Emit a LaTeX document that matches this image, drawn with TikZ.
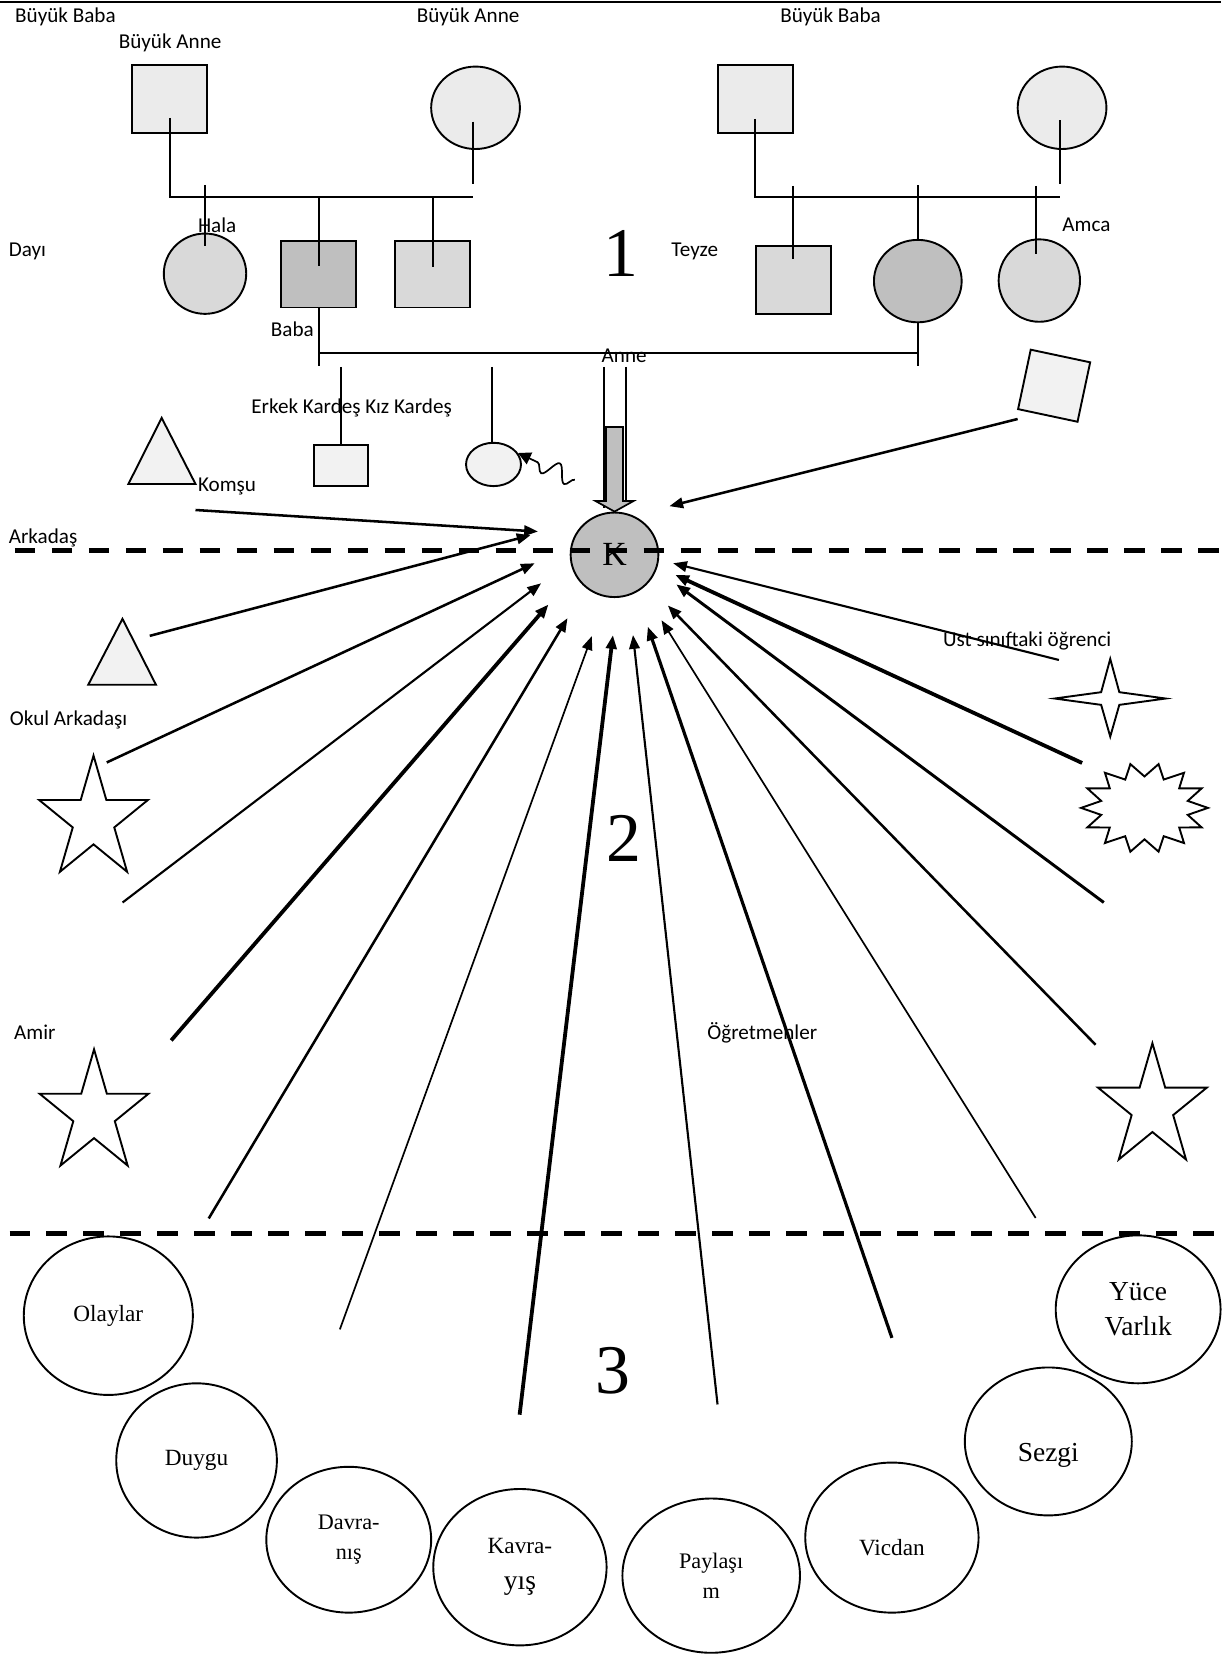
\documentclass[tikz,border=0pt]{standalone}
\usepackage{fontspec}
\setmainfont{Liberation Serif}
\newfontfamily\etiketfont{Carlito}
\usetikzlibrary{arrows.meta,shapes.geometric,decorations.pathmorphing}

\definecolor{acik}{HTML}{EBEBEB}
\definecolor{orta}{HTML}{D9D9D9}
\definecolor{koyu}{HTML}{BFBFBF}
\definecolor{soluk}{HTML}{F2F2F2}

\begin{document}
\begin{tikzpicture}
[x=0.5pt, y=-0.5pt,
sekil/.style={draw, line width=0.9pt, inner sep=0pt},
kare/.style={sekil, rectangle, minimum width=35.5pt, minimum height=32pt},
daire/.style={sekil, ellipse, minimum width=42pt, minimum height=39pt},
balon/.style={sekil, ellipse, align=center, font=\fontsize{11}{14}\selectfont},
aile/.style={line width=0.9pt},
etiket/.style={anchor=west, inner sep=0pt, font=\etiketfont\fontsize{10}{12}\selectfont},
rakam/.style={inner sep=0pt, font=\fontsize{33}{36}\selectfont},
ok/.style={line width=1.2pt, -{Triangle[length=6.5pt,width=5pt]}},
inceok/.style={ok, line width=0.8pt},
kalinok/.style={ok, line width=1.8pt},
kesik/.style={line width=2.35pt, dash pattern=on 9.7pt off 7.8pt},
yildiz/.pic={\draw[line width=0.9pt] plot[samples at={0,...,9}, variable=\t]
  ({0.89*(23.2+37.6*(1-mod(\t,2)))*cos(90+36*\t)}, {-(23.2+37.6*(1-mod(\t,2)))*sin(90+36*\t)}) -- cycle;},
]
\useasboundingbox (0,0) rectangle (1157,1568);

% ust cizgi
\coordinate (u1) at (0,1.5);
\coordinate (u2) at (1155,1.5);
\draw[line width=1pt] (u1) -- (u2);

% 1. halka: aile
\node[kare, fill=acik] (bbaba1) at (160.5,93.5) {};
\node[daire, fill=acik] (banne1) at (450,102) {};
\node[kare, fill=acik] (bbaba2) at (714.5,93.5) {};
\node[daire, fill=acik] (banne2) at (1005,102) {};

\node[daire, fill=orta, minimum width=39pt, minimum height=38pt] (hala) at (194,259) {};
\node[kare, fill=koyu, minimum height=31.5pt] (baba) at (301.5,259.5) {};
\node[kare, fill=orta, minimum height=31.5pt] (dayi) at (409.5,259.5) {};
\node[kare, fill=orta] (teyze) at (750.5,265) {};
\node[daire, fill=koyu, minimum width=41.5pt] (anne) at (868.5,266) {};
\node[daire, fill=orta, minimum width=38.5pt] (amca) at (983.5,265.5) {};

\node[kare, fill=soluk, minimum width=25.75pt, minimum height=19.5pt] (erkek) at (322.7,440.5) {};
\node[daire, fill=soluk, minimum width=26pt, minimum height=20.5pt] (kiz) at (467,439.5) {};
\node[kare, fill=soluk, minimum width=28.75pt, minimum height=28.75pt, rotate=-12] (ust) at (997.5,365) {};

\node[daire, fill=koyu, minimum width=41.5pt, minimum height=40pt, font=\fontsize{16}{18}\selectfont] (kisi) at (581.5,525) {K};

\coordinate (s1) at (161,186);
\coordinate (s2) at (448,186);
\coordinate (s3) at (715,186);
\coordinate (s4) at (1003,186);
\coordinate (s5) at (301.5,334);
\coordinate (s6) at (868.5,334);

\draw[aile] ([yshift=-9pt]bbaba1.center) |- (s2);
\draw[aile] ([xshift=-1pt,yshift=-6.5pt]banne1.center) -- ([xshift=-1pt,yshift=-16pt]banne1.south);
\draw[aile] ([yshift=42pt]hala.center) -- ([yshift=13pt]hala.center);
\draw[aile] (baba.center |- s1) -- ([yshift=4pt]baba.center);
\draw[aile] (dayi.center |- s1) -- ([yshift=3.5pt]dayi.center);
\draw[aile] ([yshift=-9.5pt]bbaba2.center) |- (s4);
\draw[aile] ([xshift=-1pt,yshift=-6pt]banne2.center) -- ([xshift=-1pt,yshift=-16pt]banne2.south);
\draw[aile] ([yshift=44.5pt]teyze.center) -- ([yshift=10pt]teyze.center);
\draw[aile] ([yshift=25.5pt]anne.north) -- (anne.north);
\draw[aile] ([xshift=-1.75pt,yshift=44.75pt]amca.center) -- ([xshift=-1.75pt,yshift=12.75pt]amca.center);
\draw[aile] (baba.south) -- ([yshift=-6pt]s5);
\draw[aile] (anne.south) -- ([yshift=-6pt]s6);
\draw[aile] (s5) -- (s6);
\draw[aile] ([yshift=36.5pt]erkek.north) -- (erkek.north);
\draw[aile] ([xshift=-0.75pt,yshift=35.5pt]kiz.north) -- ([xshift=-0.75pt]kiz.north);
\draw[aile] ([xshift=-5pt,yshift=68.5pt]kisi.north) -- ([xshift=-5pt,yshift=1.5pt]kisi.north);
\draw[aile] ([xshift=5.4pt,yshift=68.5pt]kisi.north) -- ([xshift=5.4pt,yshift=4.5pt]kisi.north);
\draw[sekil, fill=koyu, line width=0.8pt] (kisi.north) -- ++(-18,-10) -- ++(10,0) -- ++(0,-70)
  -- ++(16,0) -- ++(0,70) -- ++(10,0) -- cycle;

\coordinate (w1) at (544,454);
\draw[line width=0.8pt, -{Triangle[length=6pt,width=6pt]},
  decorate, decoration={snake, amplitude=4pt, segment length=12pt, post length=6pt}] (w1) -- (kiz.25);

% 2. halka: sekiller
\draw[sekil, fill=soluk] (153,395.5) -- (185,458) -- (121.5,458) -- cycle;
\draw[sekil, fill=soluk] (115.9,585.6) -- (147.6,648) -- (83.5,648) -- cycle;
\pic at (88.5,775.8) {yildiz};
\pic at (89,1053.8) {yildiz};
\pic at (1090.5,1048) {yildiz};
\draw[sekil] (998,661) -- (1042,655) -- (1050.6,623.5) -- (1059.2,655) -- (1103,661)
  -- (1059.2,667) -- (1050.6,697) -- (1042,667) -- cycle;
\draw[sekil] plot[samples at={0,...,27}, variable=\t]
  ({1083+60*(1-0.3*mod(\t,2))*cos(\t*360/28)}, {764.5+42.5*(1-0.3*mod(\t,2))*sin(\t*360/28)}) -- cycle;

% 3. halka
\node[balon, minimum width=80pt, minimum height=75pt] (olay) at (102.5,1245) {Olaylar};
\node[balon, minimum width=76pt, minimum height=73pt] (duygu) at (186,1382) {Duygu};
\node[balon, minimum width=78pt, minimum height=69pt, font=\fontsize{10.5}{14.5}\selectfont] (davranis) at (330,1457) {Davra-\\nış};
\node[balon, minimum width=82pt, minimum height=74pt, font=\fontsize{11}{17}\selectfont] (kavrayis) at (492,1483) {Kavra-\\\fontsize{13}{17}\selectfont yış};
\node[balon, minimum width=84pt, minimum height=73pt, font=\fontsize{10.5}{14}\selectfont] (paylasim) at (673,1491) {Paylaşı\\m};
\node[balon, minimum width=82pt, minimum height=71pt, text height=17pt] (vicdan) at (844,1455) {Vicdan};
\node[balon, minimum width=79pt, minimum height=70pt, text height=22pt, font=\fontsize{13}{16}\selectfont] (sezgi) at (992,1364) {Sezgi};
\node[balon, minimum width=78pt, minimum height=70pt, font=\fontsize{13}{16.5}\selectfont] (yuce) at (1077,1239) {Yüce\\Varlık};

% kesik cizgiler
\coordinate (d1) at (14,521);
\coordinate (d2) at (1157,521);
\coordinate (d3) at (9,1167);
\coordinate (d4) at (1157,1167);
\draw[kesik] (d1) -- (d2);
\draw[kesik] (d3) -- (d4);

% etiketler
\node[etiket] (e1) at (14,16) {Büyük Baba};
\node[etiket] (e2) at (394,16) {Büyük Anne};
\node[etiket] (e3) at (738,16) {Büyük Baba};
\node[etiket] (e4) at (112,41) {Büyük Anne};
\node[etiket] (e5) at (187,213) {Hala};
\node[etiket] (e6) at (8,238) {Dayı};
\node[etiket] (e7) at (635,238) {Teyze};
\node[etiket] (e8) at (1005,213) {Amca};
\node[etiket] (e9) at (256,312) {Baba};
\node[etiket] (e10) at (569,337) {Anne};
\node[etiket] (e11) at (237.5,386) {Erkek Kardeş Kız Kardeş};
\node[etiket] (e12) at (187,460) {Komşu};
\node[etiket] (e13) at (8,509) {Arkadaş};
\node[etiket] (e14) at (892,607) {Ust sınıftaki öğrenci};
\node[etiket] (e15) at (9,681) {Okul Arkadaşı};
\node[etiket] (e16) at (13,977) {Amir};
\node[etiket] (e17) at (669,977) {Öğretmenler};

\node[rakam] (n1) at (587.5,240) {1};
\node[rakam] (n2) at (590,793) {2};
\node[rakam] (n3) at (580,1297) {3};

% oklar
\coordinate (t1) at (185,482.6);    \coordinate (h1) at (509,503);
\coordinate (t2) at (141.7,601.7);  \coordinate (h2) at (502,506.5);
\coordinate (t3) at (101,721.5);    \coordinate (h3) at (506,533);
\coordinate (t4) at (116,854);      \coordinate (h4) at (512,552);
\coordinate (t5) at (162,984.5);    \coordinate (h5) at (519,572);
\coordinate (t6) at (197.5,1153);   \coordinate (h6) at (537,585);
\coordinate (t7) at (321.6,1258);   \coordinate (h7) at (560,602);
\coordinate (t8) at (491.7,1338.7); \coordinate (h8) at (580,601);
\coordinate (t9) at (679,1329);     \coordinate (h9) at (599,601);
\coordinate (t10) at (844,1266);    \coordinate (h10) at (613,593);
\coordinate (t11) at (980,1152.5);  \coordinate (h11) at (626,587);
\coordinate (t12) at (1036.7,988.6);\coordinate (h12) at (632,573);
\coordinate (t13) at (1044.5,854);  \coordinate (h13) at (640,553);
\coordinate (t14) at (1024,722);    \coordinate (h14) at (639,544);
\coordinate (t15) at (1002,624.5);  \coordinate (h15) at (637,533);
\coordinate (t16) at (963,396.5);   \coordinate (h16) at (633.4,479);

\draw[ok] (t1) -- (h1);
\draw[ok] (t2) -- (h2);
\draw[ok] (t3) -- (h3);
\draw[inceok, line width=1pt] (t4) -- (h4);
\draw[kalinok] (t5) -- (h5);
\draw[ok] (t6) -- (h6);
\draw[inceok] (t7) -- (h7);
\draw[kalinok] (t8) -- (h8);
\draw[inceok, line width=1pt] (t9) -- (h9);
\draw[ok, line width=1.5pt] (t10) -- (h10);
\draw[inceok] (t11) -- (h11);
\draw[ok] (t12) -- (h12);
\draw[ok, line width=1.4pt] (t13) -- (h13);
\draw[kalinok] (t14) -- (h14);
\draw[inceok, line width=1pt] (t15) -- (h15);
\draw[ok] (t16) -- (h16);
\end{tikzpicture}
\end{document}
